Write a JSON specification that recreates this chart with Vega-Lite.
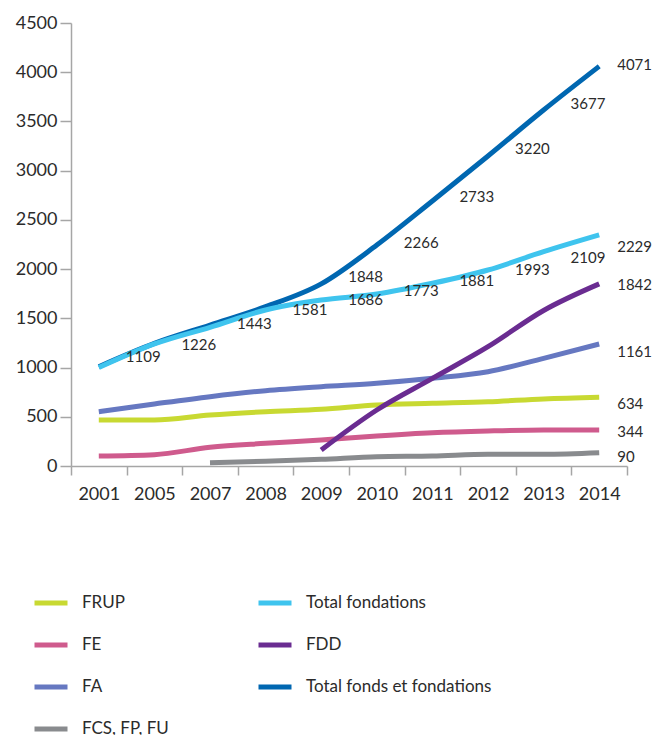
{
  "$schema": "https://vega.github.io/schema/vega-lite/v6.json",
  "autosize": {"type": "none"},
  "width": 556,
  "height": 443,
  "padding": {"left": 71, "top": 23, "right": 31, "bottom": 269},
  "background": "white",
  "config": {
    "view": {"stroke": null},
    "font": "Lato",
    "axis": {"labelFont": "Lato", "labelColor": "#2b2b2b", "domainColor": "#a6a6a6", "tickColor": "#a6a6a6", "domainWidth": 1.5, "tickWidth": 1.5, "grid": false, "title": null},
    "legend": {"labelFont": "Lato", "labelColor": "#2b2b2b"}
  },
  "data": {
    "values": [
      {"series": "Total fonds et fondations", "year": "2001", "value": 1009, "label": 1109},
      {"series": "Total fonds et fondations", "year": "2005", "value": 1246, "label": 1226},
      {"series": "Total fonds et fondations", "year": "2007", "value": 1432, "label": 1443},
      {"series": "Total fonds et fondations", "year": "2008", "value": 1618, "label": 1581},
      {"series": "Total fonds et fondations", "year": "2009", "value": 1850, "label": 1848},
      {"series": "Total fonds et fondations", "year": "2010", "value": 2245, "label": 2266},
      {"series": "Total fonds et fondations", "year": "2011", "value": 2692, "label": 2733},
      {"series": "Total fonds et fondations", "year": "2012", "value": 3149, "label": 3220},
      {"series": "Total fonds et fondations", "year": "2013", "value": 3616, "label": 3677},
      {"series": "Total fonds et fondations", "year": "2014", "value": 4060, "label": 4071},
      {"series": "Total fondations", "year": "2001", "value": 1000, "label": null},
      {"series": "Total fondations", "year": "2005", "value": 1240, "label": null},
      {"series": "Total fondations", "year": "2007", "value": 1409, "label": null},
      {"series": "Total fondations", "year": "2008", "value": 1585, "label": null},
      {"series": "Total fondations", "year": "2009", "value": 1686, "label": 1686},
      {"series": "Total fondations", "year": "2010", "value": 1747, "label": 1773},
      {"series": "Total fondations", "year": "2011", "value": 1856, "label": 1881},
      {"series": "Total fondations", "year": "2012", "value": 1991, "label": 1993},
      {"series": "Total fondations", "year": "2013", "value": 2177, "label": 2109},
      {"series": "Total fondations", "year": "2014", "value": 2347, "label": 2229},
      {"series": "FA", "year": "2001", "value": 552, "label": null},
      {"series": "FA", "year": "2005", "value": 630, "label": null},
      {"series": "FA", "year": "2007", "value": 704, "label": null},
      {"series": "FA", "year": "2008", "value": 765, "label": null},
      {"series": "FA", "year": "2009", "value": 806, "label": null},
      {"series": "FA", "year": "2010", "value": 840, "label": null},
      {"series": "FA", "year": "2011", "value": 891, "label": null},
      {"series": "FA", "year": "2012", "value": 958, "label": null},
      {"series": "FA", "year": "2013", "value": 1094, "label": null},
      {"series": "FA", "year": "2014", "value": 1239, "label": 1161},
      {"series": "FRUP", "year": "2001", "value": 467, "label": null},
      {"series": "FRUP", "year": "2005", "value": 467, "label": null},
      {"series": "FRUP", "year": "2007", "value": 518, "label": null},
      {"series": "FRUP", "year": "2008", "value": 552, "label": null},
      {"series": "FRUP", "year": "2009", "value": 576, "label": null},
      {"series": "FRUP", "year": "2010", "value": 620, "label": null},
      {"series": "FRUP", "year": "2011", "value": 637, "label": null},
      {"series": "FRUP", "year": "2012", "value": 653, "label": null},
      {"series": "FRUP", "year": "2013", "value": 681, "label": null},
      {"series": "FRUP", "year": "2014", "value": 698, "label": 634},
      {"series": "FE", "year": "2001", "value": 102, "label": null},
      {"series": "FE", "year": "2005", "value": 115, "label": null},
      {"series": "FE", "year": "2007", "value": 190, "label": null},
      {"series": "FE", "year": "2008", "value": 230, "label": null},
      {"series": "FE", "year": "2009", "value": 264, "label": null},
      {"series": "FE", "year": "2010", "value": 305, "label": null},
      {"series": "FE", "year": "2011", "value": 338, "label": null},
      {"series": "FE", "year": "2012", "value": 356, "label": null},
      {"series": "FE", "year": "2013", "value": 366, "label": null},
      {"series": "FE", "year": "2014", "value": 366, "label": 344},
      {"series": "FCS, FP, FU", "year": "2007", "value": 34, "label": null},
      {"series": "FCS, FP, FU", "year": "2008", "value": 48, "label": null},
      {"series": "FCS, FP, FU", "year": "2009", "value": 68, "label": null},
      {"series": "FCS, FP, FU", "year": "2010", "value": 95, "label": null},
      {"series": "FCS, FP, FU", "year": "2011", "value": 102, "label": null},
      {"series": "FCS, FP, FU", "year": "2012", "value": 119, "label": null},
      {"series": "FCS, FP, FU", "year": "2013", "value": 119, "label": null},
      {"series": "FCS, FP, FU", "year": "2014", "value": 135, "label": 90},
      {"series": "FDD", "year": "2009", "value": 163, "label": null},
      {"series": "FDD", "year": "2010", "value": 569, "label": null},
      {"series": "FDD", "year": "2011", "value": 890, "label": null},
      {"series": "FDD", "year": "2012", "value": 1212, "label": null},
      {"series": "FDD", "year": "2013", "value": 1580, "label": null},
      {"series": "FDD", "year": "2014", "value": 1850, "label": 1842}
    ]
  },
  "layer": [
    {
      "mark": {"type": "line", "strokeWidth": 5, "interpolate": "monotone", "strokeCap": "butt"},
      "encoding": {
        "x": {"field": "year", "type": "ordinal", "bandPosition": 0.5,
              "scale": {"type": "band", "paddingInner": 0, "paddingOuter": 0},
              "axis": {"tickBand": "extent", "labelAngle": 0, "labelFontSize": 18, "tickSize": 9, "labelPadding": 10}},
        "y": {"field": "value", "type": "quantitative",
              "scale": {"domain": [0, 4500], "nice": false},
              "axis": {"values": [0, 500, 1000, 1500, 2000, 2500, 3000, 3500, 4000, 4500], "format": "d", "labelFontSize": 18, "tickSize": 11, "labelPadding": 3}},
        "color": {"field": "series", "type": "nominal",
                  "scale": {"domain": ["FRUP", "FE", "FA", "FCS, FP, FU", "Total fondations", "FDD", "Total fonds et fondations"],
                            "range": ["#c8d932", "#cf5b8d", "#6678c1", "#898b8e", "#3fc4ee", "#6a2c91", "#0067b1"]},
                  "legend": {"title": null, "orient": "none", "legendX": -39, "legendY": 561, "columns": 2,
                             "symbolType": "stroke", "symbolSize": 1089, "symbolStrokeWidth": 5,
                             "labelFontSize": 17, "labelOffset": 12, "rowPadding": 13, "columnPadding": 79, "labelLimit": 400}},
        "detail": {"field": "series"}
      }
    },
    {
      "transform": [{"filter": "datum.label != null && datum.year != '2014' && !(datum.year == '2009' && datum.series == 'Total fonds et fondations')"}],
      "mark": {"type": "text", "align": "left", "baseline": "middle", "dx": 27, "fontSize": 15, "color": "#2b2b2b"},
      "encoding": {
        "x": {"field": "year", "type": "ordinal", "bandPosition": 0.5},
        "y": {"field": "label", "type": "quantitative"},
        "text": {"field": "label", "type": "quantitative", "format": "d"}
      }
    },
    {
      "transform": [{"filter": "datum.year == '2009' && datum.series == 'Total fonds et fondations'"}],
      "mark": {"type": "text", "align": "left", "baseline": "middle", "dx": 27, "dy": -7, "fontSize": 15, "color": "#2b2b2b"},
      "encoding": {
        "x": {"field": "year", "type": "ordinal", "bandPosition": 0.5},
        "y": {"field": "label", "type": "quantitative"},
        "text": {"field": "label", "type": "quantitative", "format": "d"}
      }
    },
    {
      "transform": [{"filter": "datum.label != null && datum.year == '2014'"}],
      "mark": {"type": "text", "align": "left", "baseline": "middle", "dx": 18, "fontSize": 15, "color": "#2b2b2b"},
      "encoding": {
        "x": {"field": "year", "type": "ordinal", "bandPosition": 0.5},
        "y": {"field": "label", "type": "quantitative"},
        "text": {"field": "label", "type": "quantitative", "format": "d"}
      }
    }
  ]
}
